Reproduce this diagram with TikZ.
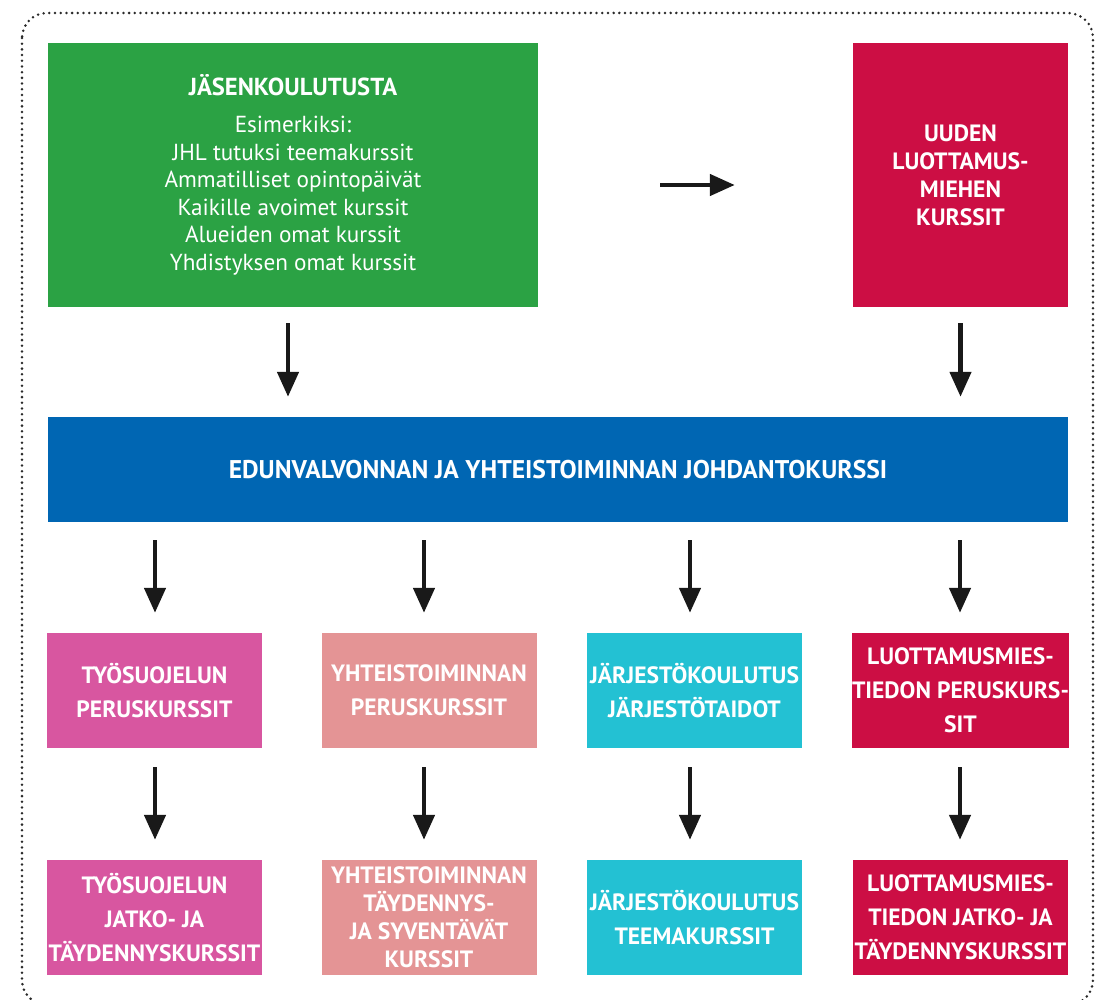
\documentclass[tikz,border=0pt]{standalone}
\usepackage{fontspec}
\setmainfont{PT Sans}
\usetikzlibrary{arrows.meta}
\definecolor{cgreen}{HTML}{2BA244}
\definecolor{cred}{HTML}{CC0E44}
\definecolor{cblue}{HTML}{0066B3}
\definecolor{cpink}{HTML}{D856A0}
\definecolor{csalmon}{HTML}{E49495}
\definecolor{ccyan}{HTML}{23C1D3}
\definecolor{cborder}{HTML}{2A2A2A}
\begin{document}
\begin{tikzpicture}[x=1pt,y=-1pt,
  box/.style={inner sep=0pt, align=center, text=white, anchor=center},
  bigtxt/.style={font=\fontsize{25.6}{28}\selectfont\bfseries},
  rowtxt/.style={font=\fontsize{23.6}{34}\selectfont\bfseries},
  rowtxtb/.style={font=\fontsize{23.6}{28}\selectfont\bfseries},
  cell/.style={box, minimum width=215pt, minimum height=115pt, rowtxt},
  arr/.style={line width=4.6pt, draw=black!90, -{Triangle[length=25pt,width=21pt]}},
  frame/.style={draw=cborder, line width=2.8pt, line cap=round, dash pattern=on 0pt off 5.7pt, rounded corners=25pt}
]
\useasboundingbox (0,0) rectangle (1097,1000);
\draw[frame] (22,13) rectangle (1093,1005);

\node[box, fill=cgreen, minimum width=490pt, minimum height=264pt,
  font=\fontsize{23.2}{27.6}\selectfont] (green) at (293,175)
  {{\fontsize{24.6}{27.6}\selectfont\bfseries JÄSENKOULUTUSTA}\\[9pt]Esimerkiksi:\\JHL tutuksi teemakurssit\\Ammatilliset opintopäivät\\Kaikille avoimet kurssit\\Alueiden omat kurssit\\Yhdistyksen omat kurssit};

\node[box, fill=cred, minimum width=215pt, minimum height=264pt, rowtxtb] (red) at (960.5,175)
  {UUDEN\\LUOTTAMUS-\\MIEHEN\\KURSSIT};

\node[box, fill=cblue, minimum width=1020pt, minimum height=105pt, bigtxt] (blue) at (558,469.5)
  {EDUNVALVONNAN JA YHTEISTOIMINNAN JOHDANTOKURSSI};

\node[cell, fill=cpink] (p1) at (154.5,690.5) {TYÖSUOJELUN\\PERUSKURSSIT};
\node[cell, fill=csalmon] (s1) at (429,690.5) {YHTEISTOIMINNAN\\PERUSKURSSIT};
\node[cell, fill=ccyan] (c1) at (694.5,690.5) {JÄRJESTÖKOULUTUS\\JÄRJESTÖTAIDOT};
\node[cell, fill=cred] (r1) at (960.5,690.5) {LUOTTAMUSMIES-\\TIEDON PERUSKURS-\\SIT};

\node[cell, fill=cpink] (p2) at (154.5,917.5) {TYÖSUOJELUN\\JATKO- JA\\TÄYDENNYSKURSSIT};
\node[cell, fill=csalmon, rowtxtb] (s2) at (429,917.5) {YHTEISTOIMINNAN\\TÄYDENNYS-\\JA SYVENTÄVÄT\\KURSSIT};
\node[cell, fill=ccyan] (c2) at (694.5,917.5) {JÄRJESTÖKOULUTUS\\TEEMAKURSSIT};
\node[cell, fill=cred] (r2) at (960.5,917.5) {LUOTTAMUSMIES-\\TIEDON JATKO- JA\\TÄYDENNYSKURSSIT};

% arrows
\draw[arr, shorten <=122pt, shorten >=118pt] ([yshift=-10pt]green.east) -- ([yshift=-10pt]red.west);
\draw[arr, shorten <=16pt, shorten >=20pt] ([xshift=-5pt]green.south) -- ([xshift=-5pt]green.south |- blue.north);
\draw[arr, shorten <=16pt, shorten >=20pt] (red.south) -- (red.south |- blue.north);

\foreach \n/\dx in {p1/0.5, s1/-5, c1/-4.5, r1/-0.5}{
  \draw[arr, shorten <=18pt, shorten >=20pt] ([xshift=\dx pt]\n.north |- blue.south) -- ([xshift=\dx pt]\n.north);
}
\draw[arr, shorten <=19pt, shorten >=20pt] ([xshift=0.5pt]p1.south) -- ([xshift=0.5pt]p2.north);
\draw[arr, shorten <=19pt, shorten >=20pt] ([xshift=-5pt]s1.south) -- ([xshift=-5pt]s2.north);
\draw[arr, shorten <=19pt, shorten >=20pt] ([xshift=-4.5pt]c1.south) -- ([xshift=-4.5pt]c2.north);
\draw[arr, shorten <=19pt, shorten >=20pt] ([xshift=-0.5pt]r1.south) -- ([xshift=-0.5pt]r2.north);
\end{tikzpicture}
\end{document}
